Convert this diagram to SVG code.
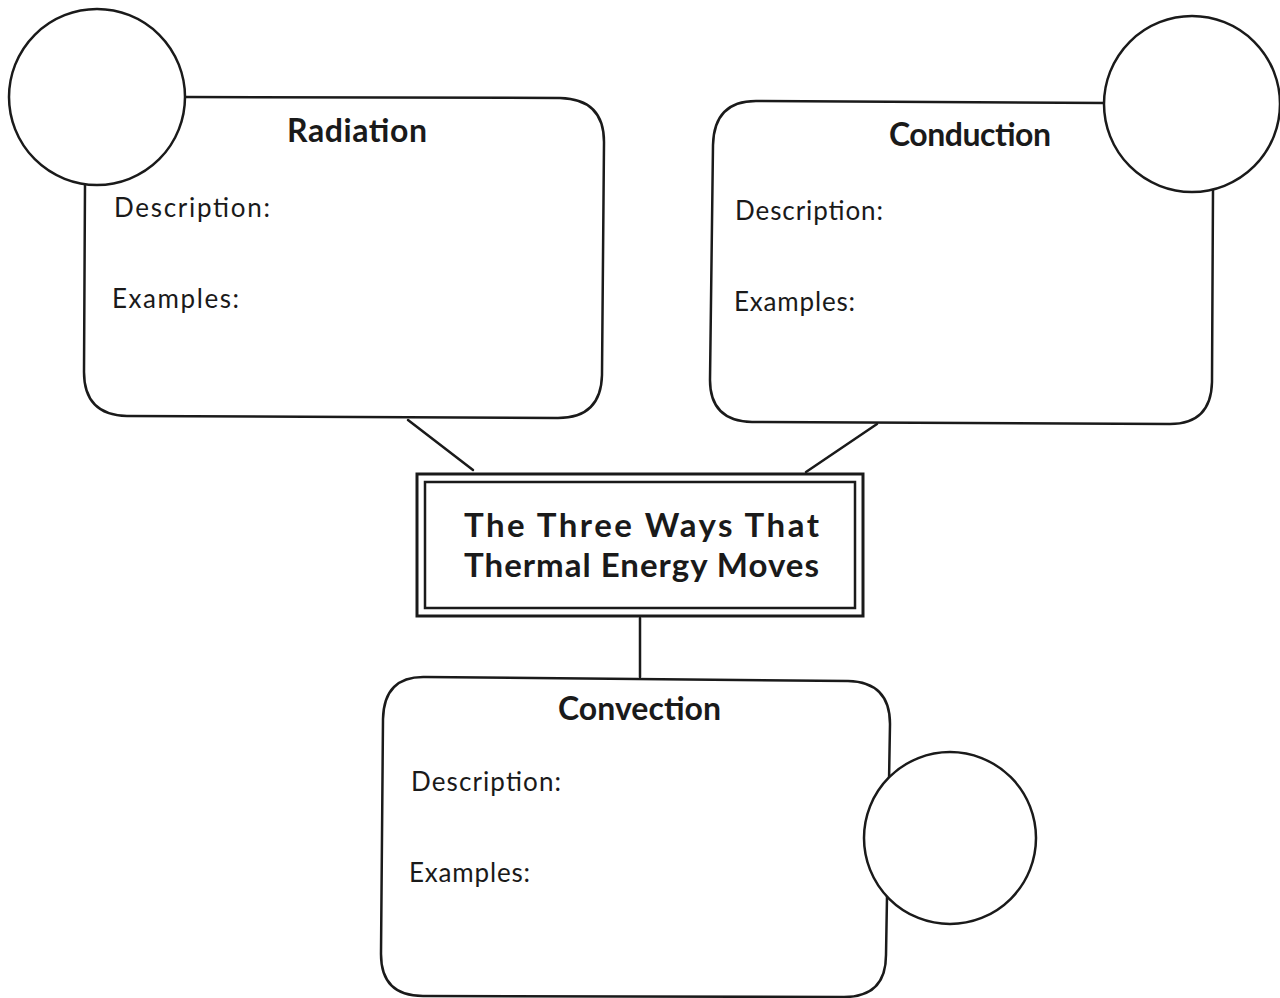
<svg xmlns="http://www.w3.org/2000/svg" width="1280" height="998" viewBox="0 0 1280 998">
  <style>
    .ln { fill: none; stroke: #1a1a1a; stroke-width: 2.5; stroke-linejoin: round; stroke-linecap: round; }
    .disc { fill: #ffffff; stroke: #1a1a1a; stroke-width: 2.5; }
    .head { font-family: "Comic Sans MS", "Lato", "DejaVu Sans", sans-serif; font-weight: bold; font-size: 32px; fill: #1a1a1a; }
    .lab { font-family: "Comic Sans MS", "Lato", "DejaVu Sans", sans-serif; font-size: 26px; fill: #1a1a1a; }
    .title { font-family: "Comic Sans MS", "Lato", "DejaVu Sans", sans-serif; font-weight: bold; font-size: 33px; fill: #1a1a1a; }
  </style>
  <rect x="0" y="0" width="1280" height="998" fill="#ffffff"/>

  <!-- connectors between the centre box and the three topic boxes -->
  <g id="connectors">
    <line class="ln" x1="408" y1="420" x2="473" y2="470"/>
    <line class="ln" x1="877" y1="424" x2="806" y2="472"/>
    <line class="ln" x1="640" y1="618" x2="640" y2="677"/>
  </g>

  <!-- Radiation -->
  <g id="radiation">
    <path class="ln" d="M185,97 L560,98 Q604,99 604,142 L602,375 Q601,418 558,418 L127,416 Q84,415 84,372 L85,184"/>
    <circle class="disc" cx="97" cy="97" r="88"/>
    <text class="head" x="287" y="142" textLength="140">Radiation</text>
    <text class="lab" x="114" y="217" textLength="156">Description:</text>
    <text class="lab" x="112" y="308" textLength="127">Examples:</text>
  </g>

  <!-- Conduction -->
  <g id="conduction">
    <path class="ln" d="M1106,103 L756,101 Q714,101 713,145 L710,380 Q710,421 752,422 L1170,424 Q1211,424 1212,382 L1213,190"/>
    <circle class="disc" cx="1192" cy="104" r="88"/>
    <text class="head" x="889" y="146" textLength="162">Conduction</text>
    <text class="lab" x="735" y="220" textLength="148">Description:</text>
    <text class="lab" x="734" y="311" textLength="121">Examples:</text>
  </g>

  <!-- Centre title box -->
  <g id="centre">
    <rect x="417" y="474" width="446" height="142" fill="#ffffff" stroke="#1a1a1a" stroke-width="3"/>
    <rect x="425" y="482" width="430" height="126" fill="none" stroke="#1a1a1a" stroke-width="2.5"/>
    <text class="title" x="464" y="537" textLength="355">The Three Ways That</text>
    <text class="title" x="464" y="577" textLength="355">Thermal Energy Moves</text>
  </g>

  <!-- Convection -->
  <g id="convection">
    <path class="ln" d="M425,677 L848,681 Q890,682 890,724 L886,955 Q886,997 844,997 L423,996 Q381,996 381,954 L383,719 Q384,676 425,677 Z"/>
    <ellipse class="disc" cx="950" cy="838" rx="86" ry="86"/>
    <text class="head" x="558" y="720" textLength="163">Convection</text>
    <text class="lab" x="411" y="791" textLength="150">Description:</text>
    <text class="lab" x="409" y="882" textLength="121">Examples:</text>
  </g>
</svg>
